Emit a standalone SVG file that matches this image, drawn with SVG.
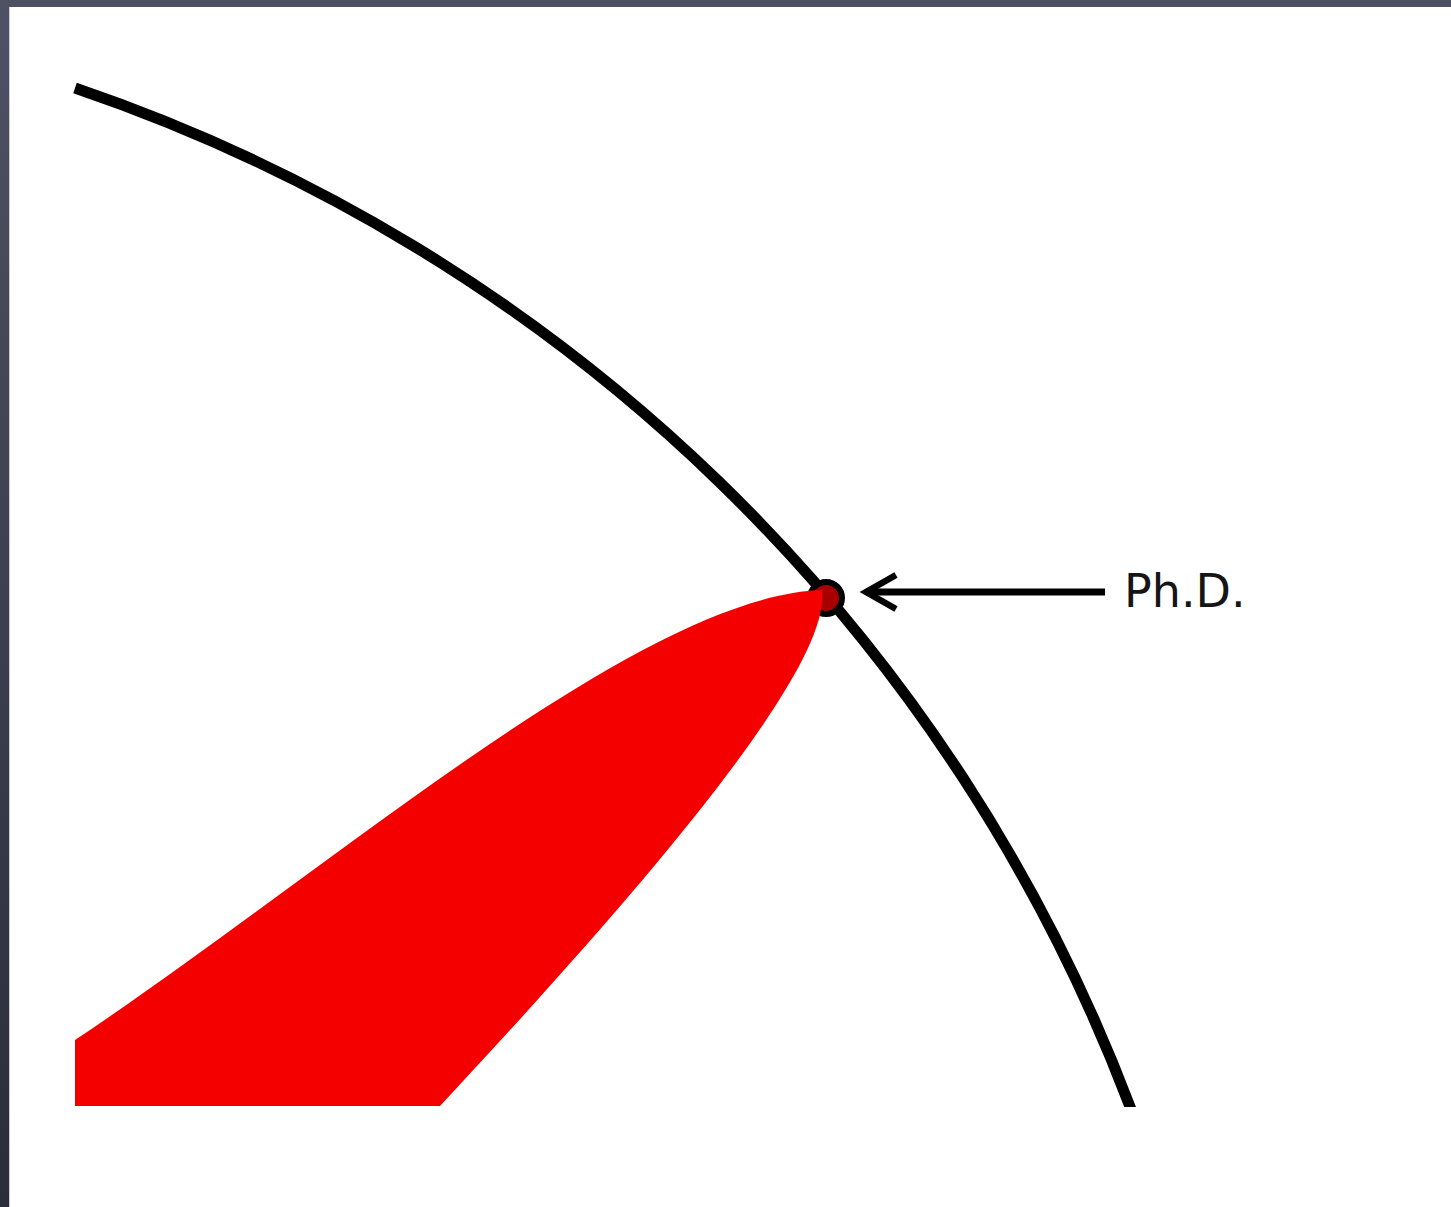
<svg xmlns="http://www.w3.org/2000/svg" width="1451" height="1207" viewBox="0 0 1451 1207">
  <style>
    .label { font-family: "DejaVu Sans", "Liberation Sans", sans-serif; font-size: 46px; fill: #151515; }
    .conn { stroke: #000; stroke-width: 7; fill: none; }
  </style>
  <defs>
    <linearGradient id="frameL" x1="0" y1="0" x2="0" y2="1">
      <stop offset="0" stop-color="#4e5264"/>
      <stop offset="1" stop-color="#2a2d3a"/>
    </linearGradient>
    <clipPath id="clipArc">
      <rect x="0" y="0" width="1451" height="1107"/>
    </clipPath>
    <marker id="chev" viewBox="0 0 40 40" refX="34" refY="20" markerWidth="40" markerHeight="40" markerUnits="userSpaceOnUse" orient="auto">
      <polyline points="4,3 34,20 4,37" fill="none" stroke="#000" stroke-width="6.5" stroke-linejoin="miter"/>
    </marker>
  </defs>
  <rect width="1451" height="1207" fill="#ffffff"/>
  <rect x="0" y="0" width="1451" height="7" fill="#4d5163"/>
  <rect x="0" y="0" width="9" height="1207" fill="url(#frameL)"/>
  <rect x="9" y="7" width="1" height="1200" fill="#c8cad0"/>

  <g id="knowledge-boundary">
    <path d="M75,88 A1720,1720 0 0 1 1132,1112" fill="none" stroke="#000" stroke-width="11" clip-path="url(#clipArc)"/>
  </g>

  <g id="specialization">
    <circle cx="826" cy="598" r="16" fill="#a80000" stroke="#000" stroke-width="6"/>
    <path d="M75,1106 L75,1040 C 330,870 640,596 822,590 C 832,665 660,870 440,1106 Z" fill="#f40000"/>
  </g>

  <g id="phd-label">
    <text class="label" x="1124" y="607">Ph.D.</text>
  </g>

  <g id="connectors">
    <line class="conn" x1="1105" y1="592" x2="866" y2="592" marker-end="url(#chev)"/>
  </g>
</svg>
